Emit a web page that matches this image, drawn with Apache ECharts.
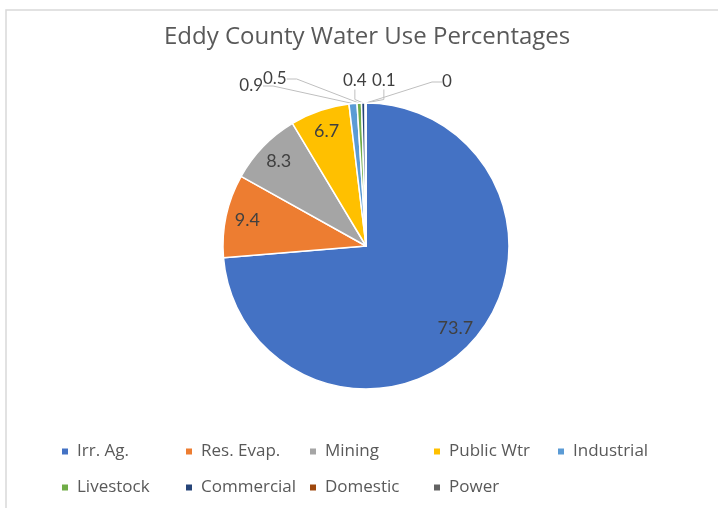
<!DOCTYPE html>
<html>
<head>
<meta charset="utf-8">
<script src="https://cdn.jsdelivr.net/npm/echarts@6/dist/echarts.min.js"></script>
<style>
  html, body { margin: 0; padding: 0; background: #fff; }
  #chart { width: 718px; height: 508px; }
</style>
</head>
<body>
<div id="chart"></div>
<script>
const categories = ['Irr. Ag.', 'Res. Evap.', 'Mining', 'Public Wtr', 'Industrial', 'Livestock', 'Commercial', 'Domestic', 'Power'];
const values = [73.7, 9.4, 8.3, 6.7, 0.9, 0.5, 0.4, 0.1, 0];
const colors = ['#4472C4', '#ED7D31', '#A5A5A5', '#FFC000', '#5B9BD5', '#70AD47', '#264478', '#9E480E', '#636363'];
const titleText = 'Eddy County Water Use Percentages';

const FONT = "'Open Sans', 'Noto Sans', sans-serif";
const LABEL_FONT = 'Lato';
const insideCount = 4;
// label placement for the small outside labels (Excel-style leader labels)
const outsideLabelPos = {
  4: { x: 263, y: 86, align: 'right' },
  5: { x: 263, y: 79, align: 'left' },
  6: { x: 343, y: 81, align: 'left' },
  7: { x: 372, y: 81, align: 'left' },
  8: { x: 442, y: 82, align: 'left' }
};

const chart = echarts.init(document.getElementById('chart'), null, { renderer: 'canvas' });

const mainData = categories.map((name, i) => ({
  name: name,
  value: values[i],
  itemStyle: { color: colors[i] },
  label: { show: i >= insideCount },
  labelLine: { show: i >= insideCount }
}));
const overlayData = categories.map((name, i) => ({
  name: name,
  value: values[i],
  label: { show: i < insideCount }
}));

const option = {
  animation: false,
  graphic: [{
    type: 'rect',
    shape: { x: 6, y: 10, width: 800, height: 600 },
    style: { fill: 'none', stroke: '#d9d9d9', lineWidth: 1.5 },
    silent: true
  }],
  title: {
    text: titleText,
    left: 159,
    top: 20,
    textStyle: { fontFamily: FONT, fontSize: 24, fontWeight: 'normal', color: '#595959' }
  },
  legend: {
    left: 60,
    top: 435,
    width: 640,
    padding: 0,
    icon: 'rect',
    itemWidth: 8,
    itemHeight: 8,
    itemGap: 3,
    data: categories,
    textStyle: { fontFamily: FONT, fontSize: 17, color: '#595959', width: 104, lineHeight: 33, padding: [0, 0, 0, 3] }
  },
  series: [{
    type: 'pie',
    center: [366, 246],
    radius: [0, 143],
    startAngle: 90,
    clockwise: true,
    avoidLabelOverlap: false,
    itemStyle: { borderColor: '#ffffff', borderWidth: 1.5 },
    label: {
      position: 'outside',
      formatter: '{c}',
      fontFamily: LABEL_FONT,
      fontSize: 17,
      color: '#404040'
    },
    labelLine: { length: 10, length2: 10, smooth: false, lineStyle: { color: '#bfbfbf', width: 1 } },
    labelLayout: function (p) {
      const pos = outsideLabelPos[p.dataIndex];
      if (!pos) return {};
      return { x: pos.x, y: pos.y, align: pos.align, verticalAlign: 'middle' };
    },
    emphasis: { disabled: true },
    data: mainData
  }, {
    type: 'pie',
    center: [366, 246],
    radius: [94, 143],
    startAngle: 90,
    clockwise: true,
    silent: true,
    legendHoverLink: false,
    avoidLabelOverlap: false,
    itemStyle: { color: 'rgba(0,0,0,0)', borderWidth: 0 },
    label: {
      position: 'inside',
      formatter: '{c}',
      fontFamily: LABEL_FONT,
      fontSize: 18,
      color: '#404040'
    },
    labelLine: { show: false },
    emphasis: { disabled: true },
    data: overlayData
  }]
};
chart.setOption(option);
</script>
</body>
</html>
